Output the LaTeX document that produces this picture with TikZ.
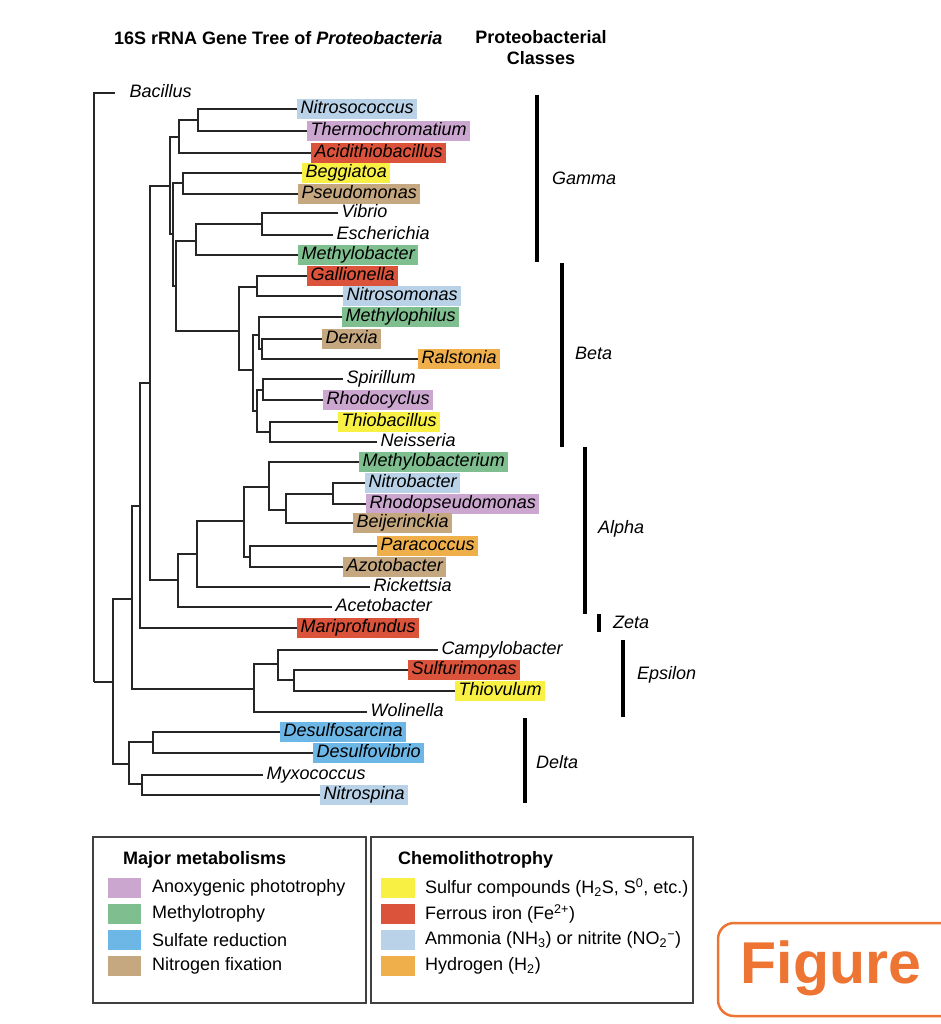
\documentclass[tikz,border=0pt]{standalone}
\usepackage{fontspec}
\setmainfont{Liberation Sans}
\definecolor{cAm}{HTML}{B9D2E7}
\definecolor{cPu}{HTML}{CBA6CE}
\definecolor{cFe}{HTML}{DA533A}
\definecolor{cS}{HTML}{F8F042}
\definecolor{cN}{HTML}{C5A780}
\definecolor{cMe}{HTML}{7FBF8F}
\definecolor{cSR}{HTML}{6DB7E6}
\definecolor{cH}{HTML}{EFB04B}
\definecolor{cOr}{HTML}{EE7433}
\definecolor{cLine}{HTML}{262626}
\begin{document}
\begin{tikzpicture}[x=1pt,y=-1pt,
  br/.style={line width=1.6pt, draw=cLine, line join=miter},
  lab/.style={anchor=west, font=\fontsize{18}{20}\selectfont\itshape, inner xsep=3.5pt, inner ysep=0.75pt, text height=14pt, text depth=5pt},
  clsbar/.style={line width=4.5pt, draw=black},
  clslab/.style={anchor=west, inner sep=0pt, font=\fontsize{18}{20}\selectfont\itshape},
  hd/.style={inner sep=0pt, font=\fontsize{18}{21}\selectfont\bfseries},
  legtxt/.style={anchor=west, inner sep=0pt, font=\fontsize{18}{20}\selectfont},
  legbox/.style={line width=1.3pt, draw=black!75}]
\useasboundingbox (0,0) rectangle (941,1024);

% headings
\node[hd, anchor=west] (title) at (114,38) {16S rRNA Gene Tree of \textit{Proteobacteria}};
\node[hd, align=center] (classes) at (541,48) {Proteobacterial\\Classes};

% internal nodes
\coordinate (R) at (94,682);
\coordinate (P1) at (113,682);
\coordinate (P2) at (132,599);
\coordinate (P3) at (140,506);
\coordinate (P4) at (150,383);
\coordinate (G1) at (170,186);
\coordinate (Gn) at (179,137);
\coordinate (Gnt) at (198,120);
\coordinate (G2) at (173,234);
\coordinate (Gbp) at (183,183);
\coordinate (G3) at (176,286);
\coordinate (Gve) at (196,241);
\coordinate (Gvv) at (262,224);
\coordinate (B) at (239,331);
\coordinate (B1) at (257,287);
\coordinate (B2) at (253,370);
\coordinate (B3) at (259,335);
\coordinate (B5) at (262,349);
\coordinate (B4) at (257,411);
\coordinate (B6) at (263,390);
\coordinate (B7) at (270,432);
\coordinate (A) at (178,580);
\coordinate (A1) at (197,554);
\coordinate (A2) at (244,521);
\coordinate (A3) at (269,487);
\coordinate (A5) at (286,510);
\coordinate (A6) at (333,494);
\coordinate (A4) at (250,557);
\coordinate (E) at (254,689);
\coordinate (E1) at (278,664);
\coordinate (E2) at (294,680);
\coordinate (D) at (129,764);
\coordinate (D1) at (153,742);
\coordinate (D2) at (142,784);

% leaves
\node[lab] (bac) at (126,93) {Bacillus};
\node[lab,fill=cAm] (nitrosococcus) at (297,109) {Nitrosococcus};
\node[lab,fill=cPu] (thermo) at (307,131) {Thermochromatium};
\node[lab,fill=cFe] (acidi) at (311,153) {Acidithiobacillus};
\node[lab,fill=cS] (beggi) at (302,173) {Beggiatoa};
\node[lab,fill=cN] (pseudo) at (298,194) {Pseudomonas};
\node[lab] (vibrio) at (338,213) {Vibrio};
\node[lab] (esch) at (333,235) {Escherichia};
\node[lab,fill=cMe] (methylobacter) at (298,255) {Methylobacter};
\node[lab,fill=cFe] (gallio) at (307,276) {Gallionella};
\node[lab,fill=cAm] (nitrosomonas) at (343,296) {Nitrosomonas};
\node[lab,fill=cMe] (methylophilus) at (342,317) {Methylophilus};
\node[lab,fill=cN] (derxia) at (322,339) {Derxia};
\node[lab,fill=cH] (ralstonia) at (418,359) {Ralstonia};
\node[lab] (spirillum) at (343,379) {Spirillum};
\node[lab,fill=cPu] (rhodocyclus) at (323,400) {Rhodocyclus};
\node[lab,fill=cS] (thiobac) at (338,422) {Thiobacillus};
\node[lab] (neisseria) at (377,442) {Neisseria};
\node[lab,fill=cMe] (methylobacterium) at (359,462) {Methylobacterium};
\node[lab,fill=cAm] (nitrobacter) at (365,483) {Nitrobacter};
\node[lab,fill=cPu] (rhodopseudo) at (366,504) {Rhodopseudomonas};
\node[lab,fill=cN] (beije) at (353,523) {Beijerinckia};
\node[lab,fill=cH] (paracoccus) at (377,546) {Paracoccus};
\node[lab,fill=cN] (azoto) at (343,567) {Azotobacter};
\node[lab] (rickettsia) at (370,587) {Rickettsia};
\node[lab] (aceto) at (332,607) {Acetobacter};
\node[lab,fill=cFe] (mari) at (297,628) {Mariprofundus};
\node[lab] (campy) at (438,650) {Campylobacter};
\node[lab,fill=cFe] (sulfuri) at (408,670) {Sulfurimonas};
\node[lab,fill=cS] (thiovulum) at (455,691) {Thiovulum};
\node[lab] (wolinella) at (367,712) {Wolinella};
\node[lab,fill=cSR] (desulfosarcina) at (280,732) {Desulfosarcina};
\node[lab,fill=cSR] (desulfovibrio) at (313,753) {Desulfovibrio};
\node[lab] (myxo) at (263,775) {Myxococcus};
\node[lab,fill=cAm] (nitrospina) at (320,795) {Nitrospina};

% branches
\draw[br, shorten <=11pt] (bac.west) -| (R);
\draw[br] (nitrosococcus.west) -| (Gnt);
\draw[br] (thermo.west) -| (Gnt);
\draw[br] (Gnt) -| (Gn);
\draw[br] (acidi.west) -| (Gn);
\draw[br] (Gn) -| (G1);
\draw[br] (beggi.west) -| (Gbp);
\draw[br] (pseudo.west) -| (Gbp);
\draw[br] (Gbp) -| (G2);
\draw[br] (vibrio.west) -| (Gvv);
\draw[br] (esch.west) -| (Gvv);
\draw[br] (Gvv) -| (Gve);
\draw[br] (methylobacter.west) -| (Gve);
\draw[br] (Gve) -| (G3);
\draw[br] (gallio.west) -| (B1);
\draw[br] (nitrosomonas.west) -| (B1);
\draw[br] (B1) -| (B);
\draw[br] (methylophilus.west) -| (B3);
\draw[br] (derxia.west) -| (B5);
\draw[br] (ralstonia.west) -| (B5);
\draw[br] (B5) -| (B3);
\draw[br] (B3) -| (B2);
\draw[br] (spirillum.west) -| (B6);
\draw[br] (rhodocyclus.west) -| (B6);
\draw[br] (B6) -| (B4);
\draw[br] (thiobac.west) -| (B7);
\draw[br] (neisseria.west) -| (B7);
\draw[br] (B7) -| (B4);
\draw[br] (B4) -| (B2);
\draw[br] (B2) -| (B);
\draw[br] (B) -| (G3);
\draw[br] (G3) -| (G2);
\draw[br] (G2) -| (G1);
\draw[br] (G1) -| (P4);
\draw[br] (methylobacterium.west) -| (A3);
\draw[br] (nitrobacter.west) -| (A6);
\draw[br] (rhodopseudo.west) -| (A6);
\draw[br] (A6) -| (A5);
\draw[br] (beije.west) -| (A5);
\draw[br] (A5) -| (A3);
\draw[br] (A3) -| (A2);
\draw[br] (paracoccus.west) -| (A4);
\draw[br] (azoto.west) -| (A4);
\draw[br] (A4) -| (A2);
\draw[br] (A2) -| (A1);
\draw[br] (rickettsia.west) -| (A1);
\draw[br] (A1) -| (A);
\draw[br] (aceto.west) -| (A);
\draw[br] (A) -| (P4);
\draw[br] (P4) -| (P3);
\draw[br] (mari.west) -| (P3);
\draw[br] (P3) -| (P2);
\draw[br] (campy.west) -| (E1);
\draw[br] (sulfuri.west) -| (E2);
\draw[br] (thiovulum.west) -| (E2);
\draw[br] (E2) -| (E1);
\draw[br] (E1) -| (E);
\draw[br] (wolinella.west) -| (E);
\draw[br] (E) -| (P2);
\draw[br] (P2) -| (P1);
\draw[br] (desulfosarcina.west) -| (D1);
\draw[br] (desulfovibrio.west) -| (D1);
\draw[br] (D1) -| (D);
\draw[br] (myxo.west) -| (D2);
\draw[br] (nitrospina.west) -| (D2);
\draw[br] (D2) -| (D);
\draw[br] (D) -| (P1);
\draw[br] (P1) -| (R);

% class bars
\draw[clsbar] (537,95) -- (537,262);
\node[clslab] (gamma) at (552,178) {Gamma};
\draw[clsbar] (562,263) -- (562,447);
\node[clslab] (beta) at (575,353) {Beta};
\draw[clsbar] (585,447) -- (585,614);
\node[clslab] (alpha) at (598,529) {Alpha};
\draw[clsbar] (599,614) -- (599,632);
\node[clslab] (zeta) at (613,622) {Zeta};
\draw[clsbar] (623,640) -- (623,717);
\node[clslab] (epsilon) at (637,675) {Epsilon};
\draw[clsbar] (525,718) -- (525,803);
\node[clslab] (delta) at (536,762) {Delta};

% legend
\draw[legbox] (93,837) rectangle (366,1003);
\draw[legbox] (371,837) rectangle (693,1003);
\node[hd, anchor=west] (majhd) at (123,860) {Major metabolisms};
\node[hd, anchor=west] (chemhd) at (398,860) {Chemolithotrophy};
\fill[cPu] (108,878) rectangle (141,898);
\node[legtxt] (l1) at (152,888) {Anoxygenic phototrophy};
\fill[cMe] (108,904) rectangle (141,924);
\node[legtxt] (l2) at (152,914) {Methylotrophy};
\fill[cSR] (108,930) rectangle (141,950);
\node[legtxt] (l3) at (152,940) {Sulfate reduction};
\fill[cN] (108,956) rectangle (141,976);
\node[legtxt] (l4) at (152,966) {Nitrogen fixation};
\fill[cS] (381,878) rectangle (415,898);
\node[legtxt] (r1) at (425,888) {Sulfur compounds (H\textsubscript{2}S, S\textsuperscript{0}, etc.)};
\fill[cFe] (381,904) rectangle (415,924);
\node[legtxt] (r2) at (425,914) {Ferrous iron (Fe\textsuperscript{2+})};
\fill[cAm] (381,930) rectangle (415,950);
\node[legtxt] (r3) at (425,940) {Ammonia (NH\textsubscript{3}) or nitrite (NO\textsubscript{2}\textsuperscript{\char"2212})};
\fill[cH] (381,956) rectangle (415,976);
\node[legtxt] (r4) at (425,966) {Hydrogen (H\textsubscript{2})};

% Figure button
\begin{scope}
\clip (0,0) rectangle (941,1024);
\draw[cOr, line width=2.5pt, rounded corners=16pt] (718,923) rectangle (990,1016);
\end{scope}
\node[anchor=base, inner sep=0pt, text=cOr, font=\fontsize{59}{62}\selectfont\bfseries] (fig) at (831,983) {Figure};
\end{tikzpicture}
\end{document}
